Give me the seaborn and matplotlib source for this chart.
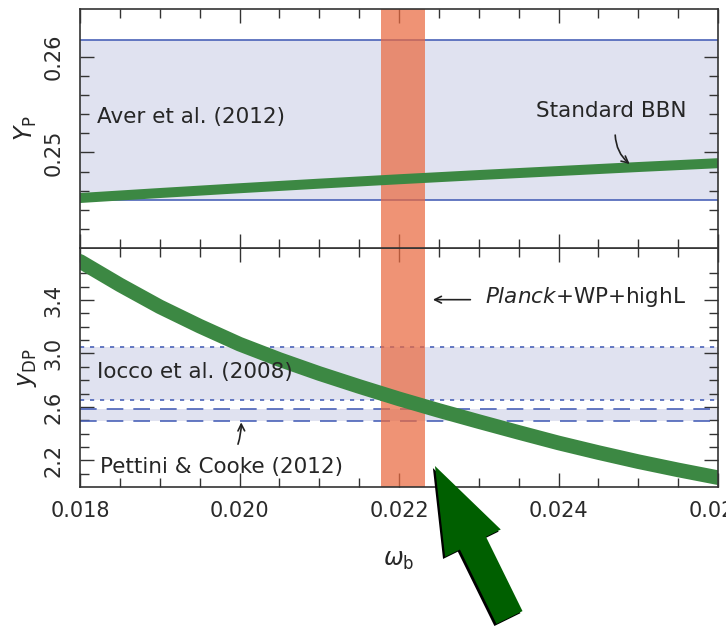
import numpy as np
import matplotlib
matplotlib.use("Agg")
import matplotlib.pyplot as plt
import seaborn as sns
from matplotlib.ticker import MultipleLocator, FixedLocator, FormatStrFormatter
from matplotlib.patches import FancyArrow
from matplotlib import patheffects as pe

# Standard BBN predictions as a function of the baryon density
omega_b = [0.0180, 0.0185, 0.0190, 0.0195, 0.0200, 0.0205, 0.0210, 0.0215, 0.0220,
           0.0225, 0.0230, 0.0235, 0.0240, 0.0245, 0.0250, 0.0255, 0.0260]
yp_bbn = [0.24523, 0.24549, 0.24575, 0.24600, 0.24625, 0.24649, 0.24673, 0.24696, 0.24719,
          0.24741, 0.24763, 0.24784, 0.24805, 0.24826, 0.24847, 0.24867, 0.24887]
ydp_bbn = [3.690, 3.514, 3.350, 3.205, 3.070, 2.955, 2.850, 2.753, 2.660,
           2.573, 2.490, 2.409, 2.330, 2.258, 2.190, 2.128, 2.070]

# Observational constraints
aver_yp = [0.2450, 0.2618]          # Aver et al. (2012)
iocco_ydp = [2.653, 3.045]          # Iocco et al. (2008)
pettini_ydp = [2.495, 2.583]        # Pettini & Cooke (2012)
planck_omega_b = [0.02177, 0.02233] # Planck+WP+highL

yp_ticks = [0.25, 0.26]
ydp_ticks = [2.2, 2.6, 3.0, 3.4]
omega_ticks = [0.018, 0.020, 0.022, 0.024, 0.026]

sns.set_theme(style="ticks")
plt.rcParams.update({
    "font.family": ["DejaVu Sans"],
    "axes.edgecolor": "#333333",
    "axes.linewidth": 1.2,
    "text.color": "#262626",
    "axes.labelcolor": "#262626",
    "xtick.color": "#333333",
    "ytick.color": "#333333",
    "xtick.labelcolor": "#2a2a2a",
    "ytick.labelcolor": "#2a2a2a",
})

GREEN = "#3c8843"
BAND = "#e0e2f0"
BLUE = "#4a62b8"
RED = "#ea6a40"

fig = plt.figure(figsize=(7.26, 6.26), dpi=100)
left, width = 80 / 726, 638 / 726
h = 239 / 626
ax2 = fig.add_axes([left, (626 - 487) / 626, width, h])
ax1 = fig.add_axes([left, (626 - 248) / 626, width, h], sharex=ax2)

# --- helium panel ---
ax1.axhspan(aver_yp[0], aver_yp[1], color=BAND, lw=0, zorder=0)
for v in aver_yp:
    ax1.axhline(v, color=BLUE, lw=1.2, zorder=1)
ax1.axvspan(planck_omega_b[0], planck_omega_b[1], color=RED, alpha=0.72, lw=0, zorder=2)
sns.lineplot(x=omega_b, y=yp_bbn, ax=ax1, color=GREEN, lw=7.2, zorder=3)
ax1.set_ylim(0.240, 0.265)
ax1.yaxis.set_major_locator(FixedLocator(yp_ticks))
ax1.yaxis.set_major_formatter(FormatStrFormatter("%.2f"))
ax1.yaxis.set_minor_locator(FixedLocator(np.round(np.arange(0.242, 0.2601, 0.002), 3)))
ax1.set_ylabel(r"$Y_{\rm P}$", fontsize=17)
ax1.yaxis.set_label_coords(-0.064, 0.5)
ax1.text(0.01821, 0.2537, "Aver et al. (2012)", fontsize=15.5, va="center", ha="left")
ax1.text(0.02372, 0.2543, "Standard BBN", fontsize=15.5, va="center", ha="left")
ax1.annotate("", xy=(0.02492, 0.2486), xytext=(0.02471, 0.2521),
             arrowprops=dict(arrowstyle="->", color="#222222", lw=1.2,
                             connectionstyle="arc3,rad=0.25"))
plt.setp(ax1.get_xticklabels(), visible=False)

# --- deuterium panel ---
ax2.axhspan(iocco_ydp[0], iocco_ydp[1], color=BAND, lw=0, zorder=0)
ax2.axhspan(pettini_ydp[0], pettini_ydp[1], color=BAND, lw=0, zorder=0)
for v in iocco_ydp:
    ax2.axhline(v, color=BLUE, lw=1.2, ls=(0, (2.5, 3.5)), zorder=1)
for v in pettini_ydp:
    ax2.axhline(v, color=BLUE, lw=1.2, ls=(0, (10, 6)), zorder=1)
ax2.axvspan(planck_omega_b[0], planck_omega_b[1], color=RED, alpha=0.72, lw=0, zorder=2)
sns.lineplot(x=omega_b, y=ydp_bbn, ax=ax2, color=GREEN, lw=10.5, zorder=3)
ax2.set_ylim(2.0, 3.79)
ax2.yaxis.set_major_locator(FixedLocator(ydp_ticks))
ax2.yaxis.set_major_formatter(FormatStrFormatter("%.1f"))
ax2.yaxis.set_minor_locator(FixedLocator(np.round(np.arange(2.1, 3.61, 0.1), 1)))
ax2.set_ylabel(r"$y_{\rm DP}$", fontsize=17)
ax2.yaxis.set_label_coords(-0.064, 0.5)
ax2.text(0.01821, 2.859, "Iocco et al. (2008)", fontsize=15.5, va="center", ha="left")
ax2.text(0.01825, 2.151, "Pettini & Cooke (2012)", fontsize=15.5, va="center", ha="left")
ax2.text(0.02308, 3.42, r"$\it{Planck}$+WP+highL", fontsize=15.5, va="center", ha="left")
ax2.annotate("", xy=(0.02239, 3.403), xytext=(0.02293, 3.403),
             arrowprops=dict(arrowstyle="->", color="#222222", lw=1.2))
ax2.annotate("", xy=(0.02002, 2.505), xytext=(0.01997, 2.301),
             arrowprops=dict(arrowstyle="->", color="#222222", lw=1.2,
                             connectionstyle="arc3,rad=0.1"))

ax2.set_xlim(0.018, 0.026)
ax2.xaxis.set_major_locator(FixedLocator(omega_ticks))
ax2.xaxis.set_major_formatter(FormatStrFormatter("%.3f"))
ax2.xaxis.set_minor_locator(MultipleLocator(0.0005))
ax2.set_xlabel(r"$\omega_{\rm b}$", fontsize=17)
ax2.xaxis.set_label_coords(0.5, -0.255)

for ax in (ax1, ax2):
    ax.tick_params(which="both", direction="in", top=True, right=True, width=1.0)
    ax.tick_params(which="major", length=10)
    ax.tick_params(which="minor", length=6.5)
    ax.tick_params(axis="y", labelrotation=90, labelsize=15, pad=12)
    ax.tick_params(axis="x", labelsize=15, pad=10)
    for lbl in ax.get_yticklabels():
        lbl.set_va("center")
    for s in ax.spines.values():
        s.set_visible(True)
        s.set_zorder(5)

# Big pointer arrow drawn in figure inches (origin at the lower left)
tail = (509.5 / 100, (626 - 617.5) / 100)
tip = (435 / 100, (626 - 466) / 100)
arrow = FancyArrow(tail[0], tail[1], tip[0] - tail[0], tip[1] - tail[1],
                   width=0.29, head_width=0.62, head_length=0.86,
                   length_includes_head=True, color="#005f00", lw=0,
                   transform=fig.dpi_scale_trans, zorder=10)
arrow.set_path_effects([pe.SimplePatchShadow(offset=(-1.5, -1.5), shadow_rgbFace="black", alpha=1.0),
                        pe.Normal()])
fig.add_artist(arrow)

fig.savefig("out.png", dpi=100)
